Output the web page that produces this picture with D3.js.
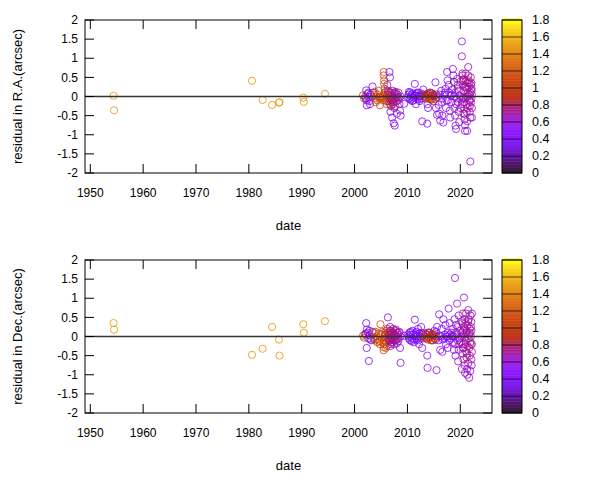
<!DOCTYPE html>
<meta charset="utf-8">
<script src="https://d3js.org/d3.v7.min.js"></script>
<style>
body { margin: 0; background: #fff; }
text { font-family: "Liberation Sans", Arial, sans-serif; font-size: 12px; fill: #000; }
.axlabel { font-size: 13px; }
.cblabel { font-size: 12.5px; }
</style>
<svg id="chart" width="600" height="480"></svg>
<script>
// observation epochs (year), residuals in arcsec, colour value
var dates = [1954.4,1954.5,1980.6,1982.6,1984.4,1985.7,1985.8,1990.3,1990.4,1994.4,
  2001.6,2001.8,2002.0,2002.2,2002.3,2002.3,2002.5,2002.7,2002.9,2003.0,2003.4,2003.6,2003.7,2003.9,2004.1,2004.3,2004.6,2004.8,2004.9,2005.0,
  2005.5,2005.5,2005.6,2005.6,2005.7,2005.7,2005.8,2005.8,2006.0,2006.1,2006.2,2006.3,2006.5,2006.6,2006.7,2006.7,2006.8,2006.8,2006.9,2007.0,
  2007.0,2007.1,2007.2,2007.3,2007.4,2007.5,2007.5,2007.6,2007.7,2007.8,2007.9,2008.0,2008.1,2008.3,2008.5,2008.6,2008.7,2008.7,2009.4,
  2010.2,2010.4,2010.5,2010.7,2010.9,2011.0,2011.2,2011.4,2011.5,2011.6,2011.8,2012.0,2012.2,2012.4,2012.6,2012.8,2013.0,
  2013.2,2013.4,2013.6,2013.75,2013.8,2013.9,2014.0,2014.2,2014.3,2014.5,2014.7,2014.9,2015.1,2015.3,2015.4,2015.5,2015.6,
  2015.9,2016.0,2016.2,2016.4,2016.5,2016.6,2016.8,2017.0,2017.2,2017.3,2017.5,2017.6,2017.7,2017.8,2017.9,2018.0,2018.1,
  2018.4,2018.6,2018.7,2018.8,2018.8,2018.9,2019.0,2019.1,2019.2,2019.3,2019.4,2019.5,2019.6,2019.7,2019.8,2019.9,2020.2,
  2020.3,2020.3,2020.4,2020.4,2020.5,2020.5,2020.6,2020.6,2020.7,2020.7,2020.8,2020.8,2020.9,2020.9,
  2021.0,2021.0,2021.1,2021.1,2021.2,2021.2,2021.3,2021.3,2021.4,2021.5,2021.5,2021.6,2021.6,2021.7,2021.7,2021.8,2021.8,2021.9,2021.9,
  2022.0,2022.0,2022.1,2022.1,2022.2,2022.2,
  2006.3,2006.4,2006.5,2006.6,2006.7,2006.9,2007.0,2007.1,2007.2,2007.3,2007.4,2007.6,2007.7,2007.8,2008.0,2008.2,2008.3,2008.4,
  2005.3,2005.4,2005.9,2006.0,
  2002.1,2002.6,2002.8,2003.2,2003.8,2004.0,2004.4,2004.7,
  2010.1,2010.3,2010.6,2010.8,2011.1,2011.3,2011.7,2011.9,2012.1,2012.3,2012.5,2012.7,
  2013.1,2013.5,2013.9,2014.1,2014.4,2014.6,2014.8,2015.0,2015.2,2015.5,
  2016.1,2016.7,2017.1,2017.4,2018.2,2018.3,2018.5,2019.0,2019.2,2019.5,2019.7,2020.0,2020.1,2020.3,2020.5,
  2020.7,2020.9,2021.0,2021.2,2021.4,2021.5,2021.7,2021.9,2022.0,2022.1,2022.2,2020.6,2021.3,2021.8,2022.15];

var resRA = [0.02,-0.36,0.41,-0.09,-0.22,-0.16,-0.15,-0.03,-0.14,0.07,
  0.03,-0.05,0.0,0.16,-0.1,-0.23,0.07,-0.02,-0.2,0.05,0.26,0.1,0.05,-0.05,0.0,-0.1,0.15,-0.23,0.0,-0.05,
  0.64,0.55,0.42,0.33,0.2,0.1,-0.05,0.05,-0.12,-0.2,0.3,0.15,0.0,0.64,0.5,0.1,-0.1,-0.4,-0.25,0.05,
  -0.15,-0.55,-0.08,-0.2,-0.7,0.1,-0.3,-0.76,-0.05,0.0,-0.12,-0.45,0.05,-0.02,-0.2,-0.37,-0.5,0.0,-0.19,
  0.05,-0.05,0.1,0.0,-0.12,0.08,-0.03,0.33,0.02,-0.2,0.1,0.0,-0.08,0.0,0.08,-0.65,0.18,
  0.0,-0.06,0.05,-0.71,-0.2,-0.3,0.02,0.1,-0.08,0.0,0.08,-0.12,0.03,0.37,-0.3,-0.02,-0.48,
  -0.22,-0.45,-0.63,0.15,-0.15,-0.5,-0.68,0.05,0.2,-0.3,0.64,0.42,-0.1,0.3,0.1,-0.37,-0.55,
  0.05,0.72,0.55,0.38,0.0,-0.3,-0.5,-0.76,-0.85,-0.05,0.46,0.2,-0.15,-0.4,-0.67,0.02,-0.08,
  1.44,1.05,0.6,0.55,0.42,0.3,0.15,-0.02,-0.15,-0.32,-0.45,-0.6,-0.75,-0.9,
  0.6,0.4,0.25,0.0,-0.2,-0.4,-0.65,-0.9,0.1,0.77,0.55,0.42,0.25,0.05,-0.1,-0.25,-0.4,-0.55,-1.7,
  0.5,0.3,0.15,-0.05,-0.3,-0.55,
  0.05,-0.12,0.12,-0.05,-0.2,0.02,0.1,-0.1,0.15,-0.02,-0.15,0.08,-0.25,0.12,0.0,-0.1,0.1,-0.05,
  0.0,-0.1,0.12,0.0,
  -0.05,0.1,-0.12,0.0,0.12,-0.15,0.05,-0.03,
  -0.02,0.12,-0.08,0.05,-0.1,0.03,0.06,-0.06,0.1,-0.12,0.03,-0.05,
  0.05,-0.02,0.08,-0.05,0.1,-0.08,0.04,0.0,-0.06,0.05,
  0.05,-0.05,0.1,-0.1,0.02,-0.15,0.18,0.1,-0.2,0.3,0.15,-0.3,0.4,-0.2,-0.05,
  0.45,0.25,-0.05,0.2,-0.3,0.0,0.35,0.1,-0.15,0.35,0.05,-0.45,0.35,-0.1,0.2];

var resDec = [0.35,0.18,-0.48,-0.32,0.25,-0.08,-0.5,0.32,0.1,0.4,
  0.02,-0.03,0.05,0.35,0.18,-0.3,0.1,-0.64,0.03,-0.08,0.12,-0.05,0.1,-0.1,0.0,-0.15,0.08,-0.2,0.32,0.05,
  -0.36,-0.28,-0.2,-0.1,0.0,0.1,0.05,-0.05,-0.15,-0.25,0.2,0.5,0.05,-0.05,0.25,-0.1,0.05,-0.25,0.15,-0.02,
  -0.15,0.1,-0.05,0.2,-0.1,0.05,-0.2,0.0,0.15,-0.1,0.02,-0.18,0.1,-0.05,0.12,-0.3,-0.69,0.0,0.02,
  0.0,0.1,-0.1,0.05,-0.05,0.15,-0.15,0.44,0.0,0.08,-0.08,0.2,-0.2,0.0,0.25,-0.3,0.05,
  0.0,0.08,-0.05,-0.5,-0.82,0.1,-0.03,0.1,0.02,-0.1,0.05,0.0,0.15,-0.08,0.12,-0.88,0.25,
  -0.1,0.58,-0.35,0.0,0.2,-0.4,0.45,-0.05,0.3,-0.2,0.0,-0.3,0.1,0.73,-0.1,0.35,0.05,
  0.02,0.2,-0.15,0.0,-0.35,0.45,1.53,-0.5,0.3,0.05,0.86,-0.1,-0.65,0.55,-0.2,-0.05,0.0,
  0.1,-0.85,0.35,-0.45,0.6,-0.3,0.15,-0.6,1.02,0.25,-0.75,0.45,-0.95,0.0,
  -0.2,0.35,-0.4,0.6,-0.55,0.1,-0.85,-1.0,0.3,-0.7,0.69,-0.05,0.45,-0.3,-1.08,0.2,-0.5,0.55,-0.9,
  -0.2,0.0,-0.6,0.38,-0.4,0.6,
  -0.05,0.1,-0.12,0.02,0.15,-0.2,0.08,-0.05,0.12,-0.15,0.05,-0.1,0.0,0.18,-0.08,0.05,-0.12,0.1,
  0.12,-0.15,-0.3,0.15,
  0.08,-0.05,0.15,-0.1,-0.02,0.12,-0.08,-0.12,
  0.05,-0.05,0.12,-0.12,0.05,-0.08,0.12,0.02,-0.1,0.08,-0.05,0.1,
  -0.05,0.05,-0.08,0.1,-0.02,0.06,-0.1,0.05,-0.05,0.0,
  0.02,-0.08,0.05,0.0,-0.05,0.1,0.0,-0.2,0.1,0.25,-0.35,0.15,-0.15,0.4,-0.2,
  0.05,0.2,-0.1,0.15,-0.25,0.4,0.05,-0.15,0.25,0.15,-0.2,-0.3,-0.45,0.1,-0.75];

var colVal = [1.5,1.5,1.5,1.5,1.5,1.5,1.5,1.5,1.5,1.5,
  1.15,1.2,1.1,0.4,0.45,0.4,0.4,0.45,0.4,0.45,0.5,0.5,1.2,1.2,1.15,1.1,1.2,1.15,1.2,1.15,
  1.15,1.2,1.15,1.2,1.1,1.15,1.1,1.2,1.1,1.2,0.7,0.45,0.75,0.5,0.5,0.8,0.75,0.5,0.75,0.7,
  0.8,0.5,0.75,0.7,0.55,0.75,0.7,0.55,0.8,0.7,0.75,0.6,0.7,0.65,0.55,0.55,0.55,0.6,0.5,
  0.4,0.45,0.4,0.35,0.4,0.45,0.4,0.45,0.35,0.45,0.4,0.4,0.45,0.12,0.45,0.5,0.5,
  0.95,1.0,0.9,0.5,0.5,0.5,0.95,0.45,1.0,0.9,0.45,0.95,0.45,0.5,0.5,0.5,0.45,
  0.5,0.5,0.55,0.4,0.45,0.55,0.5,0.45,0.5,0.5,0.55,0.5,0.45,0.55,0.5,0.55,0.5,
  0.5,0.6,0.65,0.15,0.55,0.6,0.6,0.55,0.6,0.55,0.6,0.7,0.65,0.6,0.65,0.6,0.65,
  0.6,0.65,0.7,0.6,0.75,0.65,0.7,0.75,0.6,0.7,0.65,0.7,0.6,0.55,
  0.7,0.75,0.7,0.7,0.75,0.7,0.65,0.6,0.75,0.65,0.7,0.75,0.7,0.75,0.65,0.7,0.7,0.65,0.6,
  0.7,0.65,0.7,0.7,0.65,0.6,
  0.75,0.8,0.7,0.75,0.8,0.7,0.75,0.8,0.7,0.75,0.8,0.7,0.75,0.7,0.75,0.7,0.65,0.7,
  1.15,1.1,1.2,1.1,
  0.4,0.45,0.4,0.45,1.2,1.15,1.2,1.1,
  0.4,0.35,0.4,0.45,0.4,0.35,0.4,0.45,0.4,0.35,0.4,0.45,
  1.0,0.95,0.9,1.0,0.95,1.0,0.9,0.95,1.0,0.9,
  0.45,0.5,0.45,0.5,0.5,0.55,0.6,0.55,0.6,0.65,0.6,0.65,0.7,0.65,0.7,
  0.75,0.7,0.65,0.7,0.75,0.7,0.75,0.7,0.65,0.7,0.75,0.7,0.75,0.7,0.65];

var xTicks = [1950,1960,1970,1980,1990,2000,2010,2020];
var yTicks = [-2,-1.5,-1,-0.5,0,0.5,1,1.5,2];
var cbTicks = [0,0.2,0.4,0.6,0.8,1,1.2,1.4,1.6,1.8];

var svg = d3.select("#chart");
var left = 85, right = 492;

var x = d3.scaleLinear().domain([1949, 2026]).range([left, right]);
var cb = d3.scaleLinear().domain([0, 1.8]);

// gnuplot default palette (rgbformulae 7,5,15)
function palette(v) {
  var t = Math.max(0, Math.min(1, v / 1.8));
  var r = Math.sqrt(t), g = t * t * t, b = Math.sin(2 * Math.PI * t);
  b = Math.max(0, Math.min(1, b));
  return d3.rgb(r * 255, g * 255, b * 255).toString();
}

var points = dates.map(function(d, i) {
  return {date: d, ra: resRA[i], dec: resDec[i], c: colVal[i]};
});

function panel(top, bottom, key, ylabel, xlabelY) {
  var y = d3.scaleLinear().domain([-2, 2]).range([bottom, top]);
  var g = svg.append("g");

  // points
  g.append("g").selectAll("circle")
    .data(points)
    .enter().append("circle")
      .attr("cx", function(d) { return x(d.date); })
      .attr("cy", function(d) { return y(d[key]); })
      .attr("r", 3.6)
      .attr("fill", "none")
      .attr("stroke", function(d) { return palette(d.c); })
      .attr("stroke-opacity", 0.8)
      .attr("stroke-width", 1);

  // zero line
  g.append("line")
    .attr("x1", left).attr("x2", right)
    .attr("y1", y(0)).attr("y2", y(0))
    .attr("stroke", "#333").attr("stroke-width", 1.3);

  // ticks (inward, mirrored)
  var tl = 9;
  yTicks.forEach(function(t) {
    g.append("line").attr("x1", left).attr("x2", left + tl)
      .attr("y1", y(t)).attr("y2", y(t)).attr("stroke", "#000");
    g.append("line").attr("x1", right).attr("x2", right - tl)
      .attr("y1", y(t)).attr("y2", y(t)).attr("stroke", "#000");
    g.append("text").attr("x", 78).attr("y", y(t)).attr("dy", "0.35em")
      .attr("text-anchor", "end").text(t);
  });
  xTicks.forEach(function(t) {
    g.append("line").attr("x1", x(t)).attr("x2", x(t))
      .attr("y1", bottom).attr("y2", bottom - tl).attr("stroke", "#000");
    g.append("line").attr("x1", x(t)).attr("x2", x(t))
      .attr("y1", top).attr("y2", top + tl).attr("stroke", "#000");
    g.append("text").attr("x", x(t)).attr("y", bottom + 24)
      .attr("text-anchor", "middle").text(t);
  });

  // frame
  g.append("rect").attr("x", left).attr("y", top)
    .attr("width", right - left).attr("height", bottom - top)
    .attr("fill", "none").attr("stroke", "#000").attr("stroke-width", 1);

  // labels
  g.append("text").attr("class", "axlabel")
    .attr("x", (left + right) / 2).attr("y", xlabelY)
    .attr("text-anchor", "middle").text("date");
  g.append("text").attr("class", "axlabel")
    .attr("transform", "translate(22," + (top + bottom) / 2 + ") rotate(-90)")
    .attr("text-anchor", "middle").text(ylabel);

  // colour box
  var cx0 = 502, cw = 20;
  cb.range([bottom, top]);
  var steps = d3.range(0, 1.8, 0.018);
  g.append("g").selectAll("rect")
    .data(steps)
    .enter().append("rect")
      .attr("x", cx0)
      .attr("y", function(d) { return cb(d + 0.018) - 0.3; })
      .attr("width", cw)
      .attr("height", function(d) { return cb(d) - cb(d + 0.018) + 0.6; })
      .attr("fill", function(d) { return palette(d + 0.009); })
      .attr("fill-opacity", 0.85);
  cbTicks.forEach(function(t) {
    g.append("line").attr("x1", cx0).attr("x2", cx0 + cw)
      .attr("y1", cb(t)).attr("y2", cb(t))
      .attr("stroke", "#000").attr("stroke-opacity", 0.7);
    g.append("text").attr("class", "cblabel")
      .attr("x", 532).attr("y", cb(t)).attr("dy", "0.35em")
      .text(t);
  });
  g.append("rect").attr("x", cx0).attr("y", top)
    .attr("width", cw).attr("height", bottom - top)
    .attr("fill", "none").attr("stroke", "#000");
}

panel(20, 173, "ra", "residual in R.A.(arcsec)", 230);
panel(260, 413, "dec", "residual in Dec.(arcsec)", 470);
</script>
